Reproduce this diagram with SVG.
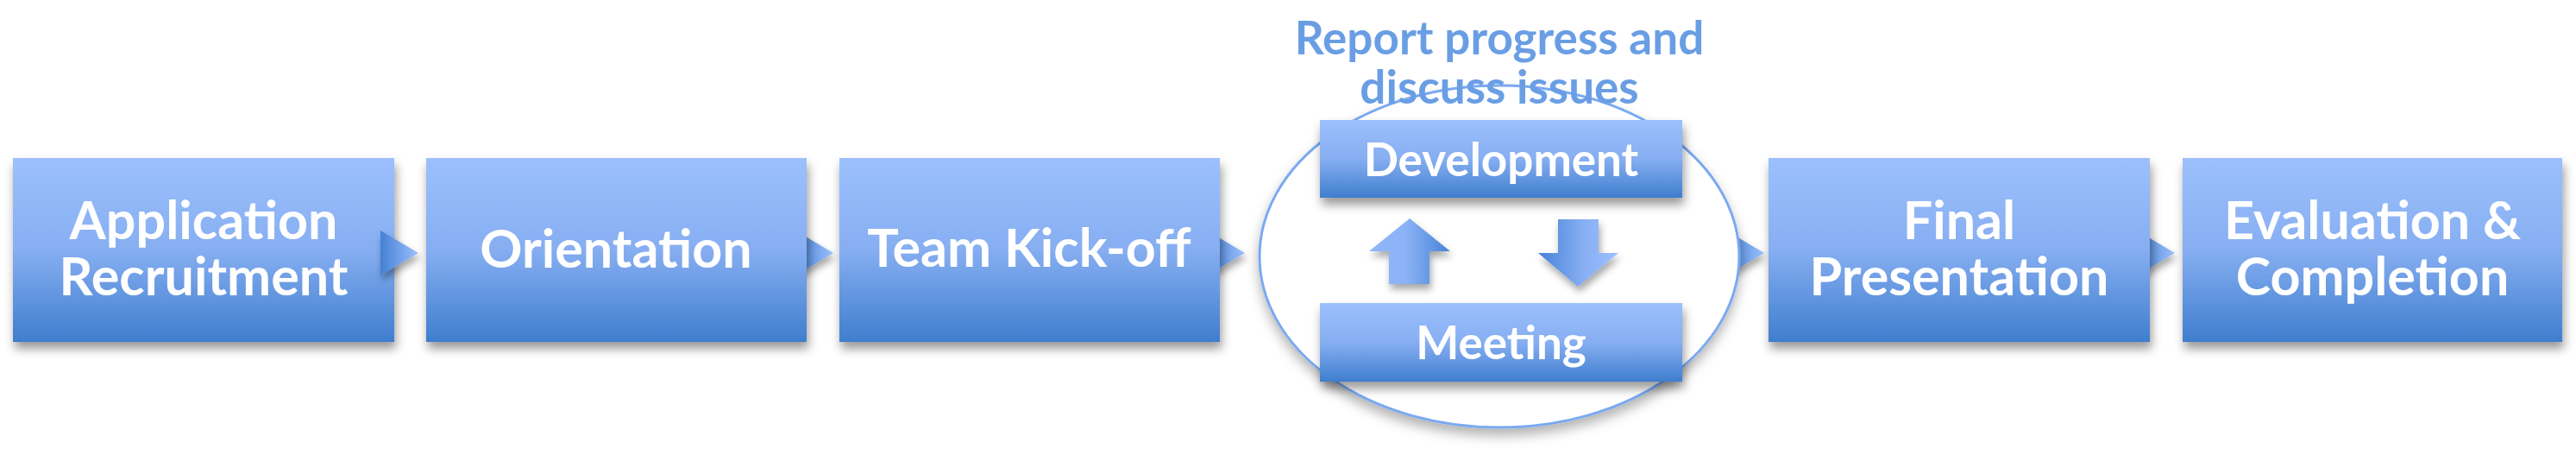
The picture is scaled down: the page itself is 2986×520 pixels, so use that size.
<svg xmlns="http://www.w3.org/2000/svg" width="2986" height="520" viewBox="0 0 2986 520">
<defs>
<linearGradient id="gBox" x1="0" y1="0" x2="0" y2="1">
<stop offset="0" stop-color="#9CC0FD"/>
<stop offset="0.5" stop-color="#86AEF1"/>
<stop offset="1" stop-color="#3F7ECE"/>
</linearGradient>
<linearGradient id="gTri" x1="0" y1="0" x2="1" y2="0">
<stop offset="0" stop-color="#4580D3"/>
<stop offset="1" stop-color="#9CC0FD"/>
</linearGradient>
<linearGradient id="gUp" x1="0" y1="0" x2="1" y2="0">
<stop offset="0" stop-color="#8EB6F8"/>
<stop offset="0.45" stop-color="#8BB3F6"/>
<stop offset="1" stop-color="#4682D5"/>
</linearGradient>
<linearGradient id="gDown" x1="0" y1="0" x2="1" y2="0">
<stop offset="0" stop-color="#4682D5"/>
<stop offset="0.55" stop-color="#86AEF3"/>
<stop offset="1" stop-color="#9CC0FD"/>
</linearGradient>
<filter id="sh" x="-10%" y="-20%" width="125%" height="150%">
<feDropShadow dx="2" dy="8" stdDeviation="6" flood-color="#000" flood-opacity="0.4"/>
</filter>
<filter id="shS" x="-30%" y="-30%" width="160%" height="170%">
<feDropShadow dx="2" dy="6" stdDeviation="4" flood-color="#000" flood-opacity="0.35"/>
</filter>
<filter id="shE" x="-10%" y="-10%" width="120%" height="130%">
<feDropShadow dx="0" dy="8" stdDeviation="7" flood-color="#000" flood-opacity="0.3"/>
</filter>
</defs>
<style>
.box{fill:url(#gBox);filter:url(#sh)}
.tri{fill:url(#gTri);filter:url(#shS)}
.t{font-family:Lato,"Liberation Sans",sans-serif;font-weight:bold;fill:#FFFFFF;text-anchor:middle}
.big{font-size:61px}
.mid{font-size:53px}
.note{font-family:Lato,"Liberation Sans",sans-serif;font-weight:bold;font-size:53px;fill:#6A9EE4;text-anchor:middle}
</style>
<rect width="2986" height="520" fill="#FFFFFF"/>
<g id="connectors">
<polygon class="tri" points="922,267 966,293 922,319"/>
<polygon class="tri" points="1399,267 1443,293 1399,319"/>
<polygon class="tri" points="2001,267 2045,293 2001,319"/>
<polygon class="tri" points="2477,267 2521,293 2477,319"/>
</g>
<g id="node-application">
<rect class="box" x="15" y="183" width="442" height="213"/>
<text class="t big" x="236" y="277">Application</text>
<text class="t big" x="236" y="342">Recruitment</text>
</g>
<g id="connector-1">
<polygon class="tri" points="441,267 485,293 441,319"/>
</g>
<g id="node-orientation">
<rect class="box" x="494" y="183" width="441" height="213"/>
<text class="t big" x="714" y="310">Orientation</text>
</g>
<g id="node-kickoff">
<rect class="box" x="973" y="183" width="441" height="213"/>
<text class="t big" x="1193" y="309">Team Kick-off</text>
</g>
<g id="node-cycle">
<ellipse cx="1738" cy="297" rx="278" ry="198" fill="#FFFFFF" stroke="#7AA9F0" stroke-width="3" filter="url(#shE)"/>
<path d="M1634,253 L1681,291 L1657,291 L1657,329 L1610,329 L1610,291 L1587,291 Z" fill="url(#gUp)" filter="url(#shS)"/>
<path d="M1806,254 L1853,254 L1853,293 L1876,293 L1829,332 L1783,293 L1806,293 Z" fill="url(#gDown)" filter="url(#shS)"/>
<text class="note" x="1738" y="63">Report progress and</text>
<text class="note" x="1738" y="120">discuss issues</text>
</g>
<g id="node-development">
<rect class="box" x="1530" y="139" width="420" height="90"/>
<text class="t mid" x="1740" y="204">Development</text>
</g>
<g id="node-meeting">
<rect class="box" x="1530" y="351" width="420" height="91"/>
<text class="t mid" x="1740" y="416">Meeting</text>
</g>
<g id="node-final">
<rect class="box" x="2050" y="183" width="442" height="213"/>
<text class="t big" x="2271" y="277">Final</text>
<text class="t big" x="2271" y="342">Presentation</text>
</g>
<g id="node-evaluation">
<rect class="box" x="2530" y="183" width="440" height="213"/>
<text class="t big" x="2750" y="277">Evaluation &amp;</text>
<text class="t big" x="2750" y="342">Completion</text>
</g>
</svg>
